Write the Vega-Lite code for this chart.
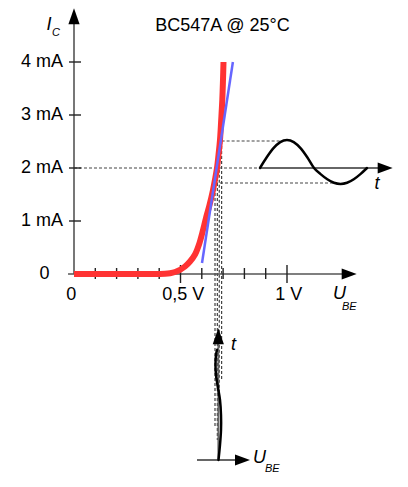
{
  "$schema": "https://vega.github.io/schema/vega-lite/v6.json",
  "width": 408,
  "height": 487,
  "autosize": "none",
  "padding": 0,
  "background": "white",
  "config": {"view": {"stroke": null}},
  "datasets": {
    "red": [
      {"k": 0, "U": 0, "I": 0}, {"k": 1, "U": 0.4038, "I": 0}, {"k": 2, "U": 0.4272, "I": 0.0038},
      {"k": 3, "U": 0.4507, "I": 0.0151}, {"k": 4, "U": 0.4742, "I": 0.0377}, {"k": 5, "U": 0.4977, "I": 0.0792},
      {"k": 6, "U": 0.5211, "I": 0.1415}, {"k": 7, "U": 0.5446, "I": 0.2358}, {"k": 8, "U": 0.5681, "I": 0.3679},
      {"k": 9, "U": 0.5869, "I": 0.5566}, {"k": 10, "U": 0.6033, "I": 0.7925}, {"k": 11, "U": 0.6197, "I": 1.0566},
      {"k": 12, "U": 0.6362, "I": 1.3019}, {"k": 13, "U": 0.6526, "I": 1.5849}, {"k": 14, "U": 0.6634, "I": 1.8113},
      {"k": 15, "U": 0.6714, "I": 2.0}, {"k": 16, "U": 0.6784, "I": 2.2453}, {"k": 17, "U": 0.6854, "I": 2.5283},
      {"k": 18, "U": 0.6911, "I": 2.9057}, {"k": 19, "U": 0.6962, "I": 3.283}, {"k": 20, "U": 0.6995, "I": 3.6604},
      {"k": 21, "U": 0.7019, "I": 4.0}
    ],
    "blue": [
      {"k": 0, "U": 0.601, "I": 0.208}, {"k": 1, "U": 0.746, "I": 4.0}
    ],
    "upperSine": [
      {"k": 0, "U": 0.8732, "I": 2.0}, {"k": 1, "U": 0.9049, "I": 2.202}, {"k": 2, "U": 0.9366, "I": 2.374},
      {"k": 3, "U": 0.9683, "I": 2.489}, {"k": 4, "U": 1.0, "I": 2.528}, {"k": 5, "U": 1.0317, "I": 2.489},
      {"k": 6, "U": 1.0634, "I": 2.374}, {"k": 7, "U": 1.0951, "I": 2.202}, {"k": 8, "U": 1.1268, "I": 2.0},
      {"k": 9, "U": 1.1577, "I": 1.885}, {"k": 10, "U": 1.1892, "I": 1.787}, {"k": 11, "U": 1.2202, "I": 1.721},
      {"k": 12, "U": 1.2512, "I": 1.698}, {"k": 13, "U": 1.2822, "I": 1.721}, {"k": 14, "U": 1.3136, "I": 1.787},
      {"k": 15, "U": 1.3446, "I": 1.885}, {"k": 16, "U": 1.3756, "I": 2.0}
    ],
    "lowerSine": [
      {"k": 0, "U": 0.6784, "I": -3.509}, {"k": 1, "U": 0.6854, "I": -3.226}, {"k": 2, "U": 0.6901, "I": -2.943},
      {"k": 3, "U": 0.6901, "I": -2.66}, {"k": 4, "U": 0.6854, "I": -2.377}, {"k": 5, "U": 0.6761, "I": -2.151},
      {"k": 6, "U": 0.6667, "I": -1.906}, {"k": 7, "U": 0.6643, "I": -1.717}, {"k": 8, "U": 0.6667, "I": -1.528},
      {"k": 9, "U": 0.6714, "I": -1.434}
    ],
    "segs": [
      {"kind": "axis", "u1": 0, "i1": 0, "u2": 0, "i2": 4.75},
      {"kind": "axis", "u1": -0.028, "i1": 0, "u2": 1.27, "i2": 0},
      {"kind": "tick", "u1": -0.0235, "i1": 1, "u2": 0.0329, "i2": 1},
      {"kind": "tick", "u1": -0.0235, "i1": 2, "u2": 0.0329, "i2": 2},
      {"kind": "tick", "u1": -0.0235, "i1": 3, "u2": 0.0329, "i2": 3},
      {"kind": "tick", "u1": -0.0235, "i1": 4, "u2": 0.0329, "i2": 4},
      {"kind": "tick", "u1": 0.1, "i1": -0.094, "u2": 0.1, "i2": 0.113},
      {"kind": "tick", "u1": 0.2, "i1": -0.094, "u2": 0.2, "i2": 0.113},
      {"kind": "tick", "u1": 0.3, "i1": -0.094, "u2": 0.3, "i2": 0.113},
      {"kind": "tick", "u1": 0.4, "i1": -0.094, "u2": 0.4, "i2": 0.113},
      {"kind": "tick", "u1": 0.5, "i1": -0.17, "u2": 0.5, "i2": 0.17},
      {"kind": "tick", "u1": 0.6, "i1": -0.094, "u2": 0.6, "i2": 0.113},
      {"kind": "tick", "u1": 0.7, "i1": -0.094, "u2": 0.7, "i2": 0.113},
      {"kind": "tick", "u1": 0.8, "i1": -0.094, "u2": 0.8, "i2": 0.113},
      {"kind": "tick", "u1": 0.9, "i1": -0.094, "u2": 0.9, "i2": 0.113},
      {"kind": "tick", "u1": 1.0, "i1": -0.17, "u2": 1.0, "i2": 0.17},
      {"kind": "dash", "u1": 0, "i1": 2.0, "u2": 0.873, "i2": 2.0},
      {"kind": "dash", "u1": 0.693, "i1": 2.509, "u2": 0.967, "i2": 2.509},
      {"kind": "dash", "u1": 0.662, "i1": 1.717, "u2": 1.216, "i2": 1.717},
      {"kind": "dash", "u1": 0.662, "i1": 1.717, "u2": 0.662, "i2": -2.906},
      {"kind": "dash", "u1": 0.673, "i1": 2.0, "u2": 0.673, "i2": -3.13},
      {"kind": "dash", "u1": 0.682, "i1": 2.25, "u2": 0.682, "i2": -2.38},
      {"kind": "dash", "u1": 0.693, "i1": 2.509, "u2": 0.693, "i2": -2.0},
      {"kind": "signal", "u1": 0.873, "i1": 2.0, "u2": 1.43, "i2": 2.0},
      {"kind": "signal", "u1": 0.6775, "i1": -3.509, "u2": 0.6775, "i2": -1.25},
      {"kind": "signal", "u1": 0.5775, "i1": -3.509, "u2": 0.795, "i2": -3.509}
    ],
    "arrows": [
      {"dir": "up", "U": 0, "I": 4.862},
      {"dir": "up", "U": 0.6775, "I": -1.175},
      {"dir": "right", "U": 1.292, "I": 0},
      {"dir": "right", "U": 1.461, "I": 2.0},
      {"dir": "right", "U": 0.7911, "I": -3.509}
    ],
    "labels": [
      {"role": "title", "text": "BC547A @ 25°C", "U": 0.697, "I": 4.591},
      {"role": "ylab", "text": "4 mA", "U": -0.0516, "I": 4},
      {"role": "ylab", "text": "3 mA", "U": -0.0516, "I": 3},
      {"role": "ylab", "text": "2 mA", "U": -0.0516, "I": 2},
      {"role": "ylab", "text": "1 mA", "U": -0.0516, "I": 1},
      {"role": "lab", "text": "0", "U": -0.1385, "I": 0},
      {"role": "lab", "text": "0", "U": -0.0127, "I": -0.396},
      {"role": "lab", "text": "0,5 V", "U": 0.513, "I": -0.396},
      {"role": "lab", "text": "1 V", "U": 1.008, "I": -0.396},
      {"role": "ital", "text": "I", "U": -0.1174, "I": 4.698},
      {"role": "ital", "text": "t", "U": 1.4225, "I": 1.689},
      {"role": "ital", "text": "t", "U": 0.7488, "I": -1.34},
      {"role": "italL", "text": "U", "U": 1.216, "I": -0.377},
      {"role": "italL", "text": "U", "U": 0.8404, "I": -3.481},
      {"role": "sub", "text": "C", "U": -0.1033, "I": 4.538},
      {"role": "sub", "text": "BE", "U": 1.258, "I": -0.623},
      {"role": "sub", "text": "BE", "U": 0.8967, "I": -3.679}
    ]
  },
  "encoding": {
    "x": {"type": "quantitative", "scale": {"domain": [-0.34742, 1.56808], "nice": false, "zero": false}, "axis": null},
    "y": {"type": "quantitative", "scale": {"domain": [-4.01887, 5.16981], "nice": false, "zero": false}, "axis": null}
  },
  "layer": [
    {
      "data": {"name": "segs"},
      "transform": [{"filter": "datum.kind === 'dash'"}],
      "mark": {"type": "rule", "color": "#444444", "strokeWidth": 1.2, "strokeDash": [3, 2]},
      "encoding": {"x": {"field": "u1"}, "x2": {"field": "u2"}, "y": {"field": "i1"}, "y2": {"field": "i2"}}
    },
    {
      "data": {"name": "segs"},
      "transform": [{"filter": "datum.kind === 'axis'"}],
      "mark": {"type": "rule", "color": "#555555", "strokeWidth": 1.6},
      "encoding": {"x": {"field": "u1"}, "x2": {"field": "u2"}, "y": {"field": "i1"}, "y2": {"field": "i2"}}
    },
    {
      "data": {"name": "segs"},
      "transform": [{"filter": "datum.kind === 'tick'"}],
      "mark": {"type": "rule", "color": "#222222", "strokeWidth": 1.4},
      "encoding": {"x": {"field": "u1"}, "x2": {"field": "u2"}, "y": {"field": "i1"}, "y2": {"field": "i2"}}
    },
    {
      "data": {"name": "segs"},
      "transform": [{"filter": "datum.kind === 'signal'"}],
      "mark": {"type": "rule", "color": "#666666", "strokeWidth": 1.8},
      "encoding": {"x": {"field": "u1"}, "x2": {"field": "u2"}, "y": {"field": "i1"}, "y2": {"field": "i2"}}
    },
    {
      "data": {"name": "red"},
      "mark": {"type": "line", "color": "#ff3333", "strokeWidth": 6, "strokeCap": "butt", "interpolate": "catmull-rom"},
      "encoding": {"x": {"field": "U"}, "y": {"field": "I"}, "order": {"field": "k"}}
    },
    {
      "data": {"name": "blue"},
      "mark": {"type": "line", "color": "#6666ff", "strokeWidth": 2.5, "strokeCap": "butt"},
      "encoding": {"x": {"field": "U"}, "y": {"field": "I"}, "order": {"field": "k"}}
    },
    {
      "data": {"name": "upperSine"},
      "mark": {"type": "line", "color": "#000000", "strokeWidth": 2.5, "strokeCap": "round", "interpolate": "cardinal"},
      "encoding": {"x": {"field": "U"}, "y": {"field": "I"}, "order": {"field": "k"}}
    },
    {
      "data": {"name": "lowerSine"},
      "mark": {"type": "line", "color": "#000000", "strokeWidth": 2.5, "strokeCap": "round", "interpolate": "cardinal"},
      "encoding": {"x": {"field": "U"}, "y": {"field": "I"}, "order": {"field": "k"}}
    },
    {
      "data": {"name": "arrows"},
      "transform": [{"filter": "datum.dir === 'up'"}],
      "mark": {"type": "point", "shape": "M0,-1L0.7,1L-0.7,1Z", "size": 256, "filled": true, "color": "#000000", "opacity": 1},
      "encoding": {"x": {"field": "U"}, "y": {"field": "I"}}
    },
    {
      "data": {"name": "arrows"},
      "transform": [{"filter": "datum.dir === 'right'"}],
      "mark": {"type": "point", "shape": "M1,0L-1,-0.72L-1,0.72Z", "size": 225, "filled": true, "color": "#000000", "opacity": 1},
      "encoding": {"x": {"field": "U"}, "y": {"field": "I"}}
    },
    {
      "data": {"name": "labels"},
      "transform": [{"filter": "datum.role === 'title'"}],
      "mark": {"type": "text", "font": "Liberation Sans", "fontSize": 18, "align": "center", "baseline": "alphabetic", "color": "#000000"},
      "encoding": {"x": {"field": "U"}, "y": {"field": "I"}, "text": {"field": "text"}}
    },
    {
      "data": {"name": "labels"},
      "transform": [{"filter": "datum.role === 'ylab'"}],
      "mark": {"type": "text", "font": "Liberation Sans", "fontSize": 18, "align": "right", "baseline": "middle", "color": "#000000"},
      "encoding": {"x": {"field": "U"}, "y": {"field": "I"}, "text": {"field": "text"}}
    },
    {
      "data": {"name": "labels"},
      "transform": [{"filter": "datum.role === 'lab'"}],
      "mark": {"type": "text", "font": "Liberation Sans", "fontSize": 18, "align": "center", "baseline": "middle", "color": "#000000"},
      "encoding": {"x": {"field": "U"}, "y": {"field": "I"}, "text": {"field": "text"}}
    },
    {
      "data": {"name": "labels"},
      "transform": [{"filter": "datum.role === 'ital'"}],
      "mark": {"type": "text", "font": "Liberation Sans", "fontSize": 18, "fontStyle": "italic", "align": "center", "baseline": "middle", "color": "#000000"},
      "encoding": {"x": {"field": "U"}, "y": {"field": "I"}, "text": {"field": "text"}}
    },
    {
      "data": {"name": "labels"},
      "transform": [{"filter": "datum.role === 'italL'"}],
      "mark": {"type": "text", "font": "Liberation Sans", "fontSize": 18, "fontStyle": "italic", "align": "left", "baseline": "middle", "color": "#000000"},
      "encoding": {"x": {"field": "U"}, "y": {"field": "I"}, "text": {"field": "text"}}
    },
    {
      "data": {"name": "labels"},
      "transform": [{"filter": "datum.role === 'sub'"}],
      "mark": {"type": "text", "font": "Liberation Sans", "fontSize": 11, "fontStyle": "italic", "align": "left", "baseline": "middle", "color": "#000000"},
      "encoding": {"x": {"field": "U"}, "y": {"field": "I"}, "text": {"field": "text"}}
    }
  ]
}
